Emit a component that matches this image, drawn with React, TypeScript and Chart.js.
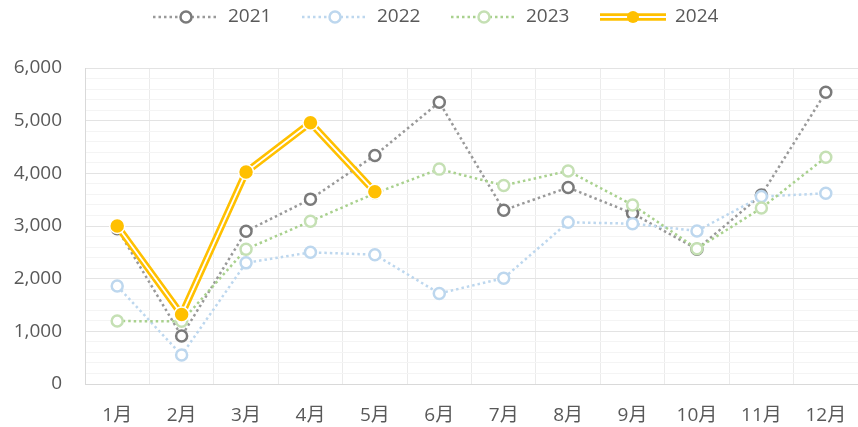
import React, { useEffect, useRef } from 'react';
import { Chart, registerables } from 'chart.js';
Chart.register(...registerables);

const months = ['1月', '2月', '3月', '4月', '5月', '6月', '7月', '8月', '9月', '10月', '11月', '12月'];
const s2021 = [2950, 910, 2900, 3510, 4340, 5350, 3300, 3730, 3240, 2560, 3590, 5540];
const s2022 = [1860, 550, 2300, 2500, 2455, 1720, 2010, 3070, 3045, 2905, 3560, 3620];
const s2023 = [1195, 1190, 2560, 3090, 3620, 4080, 3770, 4045, 3400, 2570, 3340, 4305];
const s2024 = [3000, 1320, 4025, 4960, 3650, null, null, null, null, null, null, null];
const seriesNames = ['2021', '2022', '2023', '2024'];

const FONT = "'Open Sans', 'Noto Sans CJK SC', sans-serif";
const TEXT = '#595959';
const YELLOW = '#ffc000';

const dotted = [
  { line: '#999999', point: '#7a7a7a' },
  { line: '#bdd7ee', point: '#bdd7ee' },
  { line: '#a9d18e', point: '#c5e0b4' },
];

const legendPlugin = {
  id: 'customLegend',
  afterDraw(chart: any) {
    const ctx = chart.ctx;
    ctx.save();
    ctx.font = `19px ${FONT}`;
    ctx.textBaseline = 'middle';
    const y = 17;
    const symW = 66;
    seriesNames.forEach((name, i) => {
      const x = 153 + i * 149;
      const cx = x + symW / 2;
      if (i < 3) {
        ctx.setLineDash([2.5, 3]);
        ctx.lineWidth = 2.5;
        ctx.strokeStyle = dotted[i].line;
        ctx.beginPath();
        ctx.moveTo(x, y);
        ctx.lineTo(x + symW, y);
        ctx.stroke();
        ctx.setLineDash([]);
        ctx.beginPath();
        ctx.arc(cx, y, 5.5, 0, Math.PI * 2);
        ctx.fillStyle = '#ffffff';
        ctx.fill();
        ctx.lineWidth = 2.5;
        ctx.strokeStyle = dotted[i].point;
        ctx.stroke();
      } else {
        ctx.setLineDash([]);
        ctx.lineWidth = 7.5;
        ctx.strokeStyle = YELLOW;
        ctx.beginPath();
        ctx.moveTo(x, y);
        ctx.lineTo(x + symW, y);
        ctx.stroke();
        ctx.lineWidth = 2;
        ctx.strokeStyle = '#ffffff';
        ctx.beginPath();
        ctx.moveTo(x, y);
        ctx.lineTo(x + symW, y);
        ctx.stroke();
        ctx.beginPath();
        ctx.arc(cx, y, 6, 0, Math.PI * 2);
        ctx.fillStyle = YELLOW;
        ctx.fill();
      }
      ctx.fillStyle = TEXT;
      ctx.textAlign = 'left';
      ctx.fillText(name, x + symW + 9, y);
    });
    ctx.restore();
  },
};

export default function App() {
  const ref = useRef<HTMLCanvasElement | null>(null);
  useEffect(() => {
    if (!ref.current) return;
    const dotDs = (label: string, data: number[], i: number, order: number) => ({
      label,
      data,
      order,
      borderColor: dotted[i].line,
      borderWidth: 2.5,
      borderDash: [2.5, 3],
      borderCapStyle: 'butt',
      pointRadius: 5.5,
      pointBorderWidth: 2.5,
      pointBorderColor: dotted[i].point,
      pointBackgroundColor: '#ffffff',
      tension: 0,
      fill: false,
    });
    const chart = new Chart(ref.current, {
      type: 'line',
      data: {
        labels: months,
        datasets: [
          dotDs('2021', s2021, 0, 6),
          dotDs('2022', s2022, 1, 5),
          dotDs('2023', s2023, 2, 4),
          {
            label: '2024',
            data: s2024,
            order: 3,
            borderColor: YELLOW,
            borderWidth: 7,
            pointRadius: 0,
            tension: 0,
            fill: false,
          },
          {
            label: '2024w',
            data: s2024,
            order: 2,
            borderColor: '#ffffff',
            borderWidth: 1.8,
            pointRadius: 0,
            tension: 0,
            fill: false,
          },
          {
            label: '2024p',
            data: s2024,
            order: 1,
            showLine: false,
            pointRadius: 7.5,
            pointBorderWidth: 1.5,
            pointBorderColor: '#ffffff',
            pointBackgroundColor: YELLOW,
          },
        ] as any,
      },
      options: {
        animation: false,
        responsive: false,
        maintainAspectRatio: false,
        layout: { autoPadding: false, padding: { top: 68, right: 0, bottom: 0, left: 0 } },
        plugins: { legend: { display: false }, tooltip: { enabled: false } },
        scales: {
          x: {
            offset: true,
            afterFit(s: any) {
              s.height = 43;
              s.paddingLeft = 0;
              s.paddingRight = 0;
            },
            grid: { offset: true, color: '#ebebeb', drawTicks: false, lineWidth: 1 },
            border: { color: '#d9d9d9' },
            ticks: { color: TEXT, font: { size: 19, family: FONT }, padding: 20, maxRotation: 0 },
          },
          y: {
            min: 0,
            max: 6000,
            afterFit(s: any) {
              s.width = 85;
            },
            ticks: {
              stepSize: 200,
              autoSkip: false,
              color: TEXT,
              font: { size: 19, family: FONT },
              padding: 23,
              callback: (v: any) => (v % 1000 === 0 ? Number(v).toLocaleString('en-US') : ''),
            },
            grid: {
              drawTicks: false,
              color: (c: any) => (c.tick && c.tick.value % 1000 === 0 ? '#e3e3e3' : '#f4f4f4'),
            },
            border: { color: '#d9d9d9' },
          },
        },
      } as any,
      plugins: [legendPlugin],
    });
    return () => chart.destroy();
  }, []);
  return (
    <div style={{ position: 'fixed', left: 0, top: 0, width: 858, height: 427, background: '#fff' }}>
      <canvas ref={ref} width={858} height={427} style={{ width: 858, height: 427 }} />
    </div>
  );
}
